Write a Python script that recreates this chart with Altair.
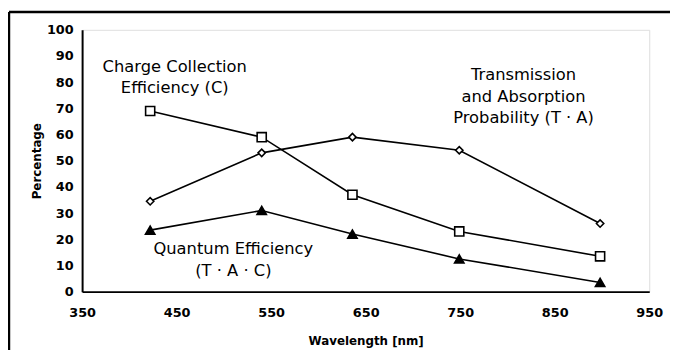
import altair as alt
import pandas as pd

wavelength = [422, 540, 636, 749, 898]
charge_collection = [69, 59, 37, 23, 13.5]
transmission_absorption = [34.5, 53, 59, 54, 26]
quantum_efficiency = [23.5, 31, 22, 12.5, 3.5]

series_names = ["C", "TA", "QE"]
series_values = [charge_collection, transmission_absorption, quantum_efficiency]

x_ticks = [350, 450, 550, 650, 750, 850, 950]
y_ticks = [0, 10, 20, 30, 40, 50, 60, 70, 80, 90, 100]

label_text = ["Charge Collection", "Efficiency (C)",
              "Transmission", "and Absorption", "Probability (T \u00b7 A)",
              "Quantum Efficiency", "(T \u00b7 A \u00b7 C)"]
label_x = [448, 448, 817, 817, 817, 510, 510]
label_y = [85.7, 77.7, 82.6, 74.3, 66.4, 16.2, 7.9]

W, H = 574, 265
FONT = "DejaVu Sans"

rows = []
for name, vals in zip(series_names, series_values):
    for w, v in zip(wavelength, vals):
        rows.append({"series": name, "wl": w, "pct": v})
df = pd.DataFrame(rows)
labels = pd.DataFrame({"t": label_text, "x": label_x, "y": label_y})

xs = alt.Scale(domain=[350, 950], nice=False, zero=False)
ys = alt.Scale(domain=[0, 100], nice=False)

x_axis = alt.Axis(values=x_ticks, title="Wavelength [nm]",
                  grid=False, ticks=False, labelPadding=15, domainColor="black",
                  domainWidth=2, labelFont=FONT, labelFontSize=13, labelFontWeight="bold",
                  labelColor="black", labelFlush=False, labelOverlap=False,
                  titleFont=FONT, titleFontSize=12,
                  titleFontWeight="bold", titleColor="black", titlePadding=16)
y_axis = alt.Axis(values=y_ticks, title="Percentage", grid=False,
                  ticks=False, labelPadding=9, domainColor="black", domainWidth=2,
                  labelFont=FONT, labelFontSize=13, labelFontWeight="bold",
                  labelColor="black", labelFlush=False, labelOverlap=False,
                  titleFont=FONT, titleFontSize=12,
                  titleFontWeight="bold", titleColor="black", titlePadding=3)

lines = alt.Chart(df).mark_line(color="black", strokeWidth=1.6).encode(
    x=alt.X("wl:Q", scale=xs, axis=x_axis),
    y=alt.Y("pct:Q", scale=ys, axis=y_axis),
    detail="series:N",
)

def pts(name, shape, fill, size):
    return alt.Chart(df[df.series == name]).mark_point(
        shape=shape, fill=fill, filled=(fill == "black"), stroke="black", strokeWidth=1.6,
        size=size, opacity=1).encode(x=alt.X("wl:Q", scale=xs, axis=x_axis),
                                     y=alt.Y("pct:Q", scale=ys, axis=y_axis))

p1 = pts("C", "square", "white", 85)
p2 = pts("TA", "diamond", "white", 55)
p3 = pts("QE", "triangle-up", "black", 90)

texts = alt.Chart(labels).mark_text(font=FONT, fontSize=16.5, color="black",
                                    align="center", baseline="middle").encode(
    x=alt.X("x:Q", scale=xs, axis=x_axis), y=alt.Y("y:Q", scale=ys, axis=y_axis), text="t:N")

one = pd.DataFrame({"a": [0]})
frame_top = alt.Chart(one).mark_rule(color="black", strokeWidth=2.5).encode(
    x=alt.value(-74), x2=alt.value(W + 40), y=alt.value(-18))
frame_left = alt.Chart(one).mark_rule(color="black", strokeWidth=2.5).encode(
    x=alt.value(-74), y=alt.value(-18), y2=alt.value(H + 70))

chart = alt.layer(frame_top, frame_left, lines, p1, p2, p3, texts).properties(
    width=W, height=H,
    autosize=alt.AutoSizeParams(type="none"),
    padding={"left": 75, "top": 20, "right": 21, "bottom": 57},
).configure_view(stroke="#666666", strokeWidth=1, strokeDash=[3, 2]).configure(background="white")

chart.save("out.html", embed_options={"renderer": "svg", "actions": False})
